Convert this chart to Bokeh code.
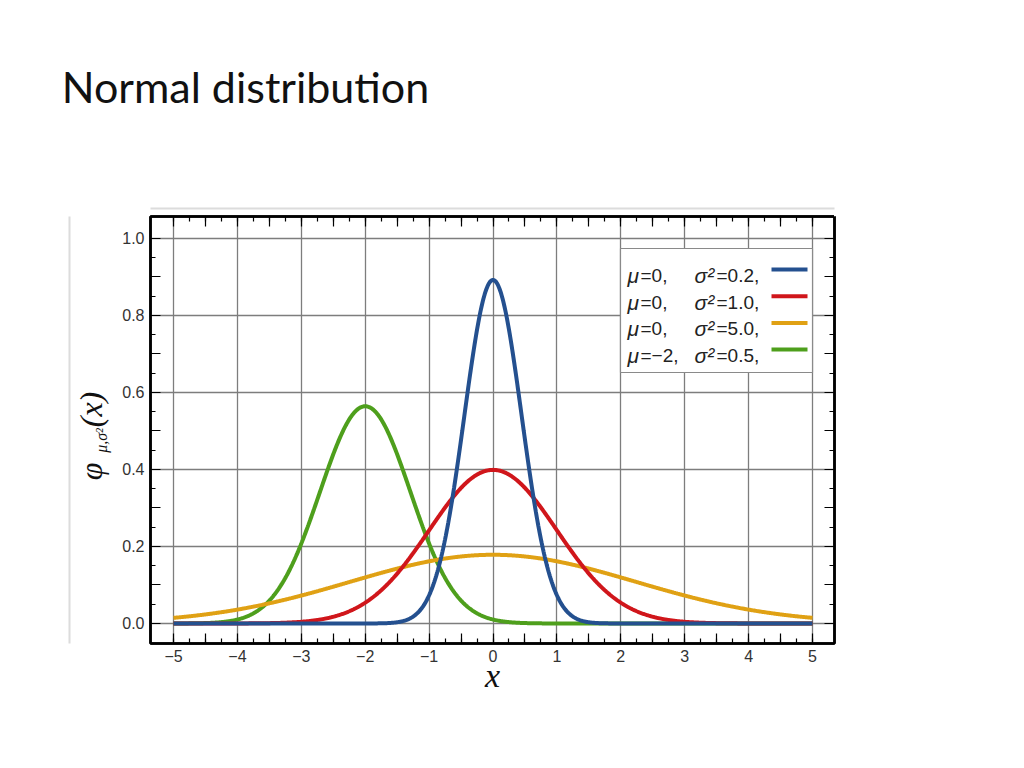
import numpy as np
from bokeh.plotting import figure
from bokeh.models import (Range1d, LinearAxis, FixedTicker, CustomJSTickFormatter,
                          Grid, ColumnDataSource)
from bokeh.core.properties import value
from bokeh.embed import file_html
from bokeh.resources import INLINE

# ---------------- data ----------------
mus = [0, 0, 0, -2]
variances = [0.2, 1.0, 5.0, 0.5]
colors = ["#24508f", "#d0161b", "#e0a114", "#4e9f1c"]
mu_labels = ["=0,", "=0,", "=0,", "=\u22122,"]
var_labels = ["=0.2,", "=1.0,", "=5.0,", "=0.5,"]
x_ticks = [-5, -4, -3, -2, -1, 0, 1, 2, 3, 4, 5]
y_ticks = [0.0, 0.2, 0.4, 0.6, 0.8, 1.0]
x_domain = [-5, 5]
title_text = "Normal distribution"
x_label = "x"
y_label_main = ["\u03c6", "(x)"]
y_label_sub = ["\u03bc,\u03c3\u00b2"]

# ---------------- layout helpers (page px -> data) ----------------
W, H = 1008, 752
F_LEFT, F_TOP, F_RIGHT, F_BOTTOM = 150, 216, 834, 643
X0, X1 = -5.36, 5.344
Y0, Y1 = -0.052, 1.057

def X(px):
    return X0 + (px - F_LEFT) / (F_RIGHT - F_LEFT) * (X1 - X0)

def Y(py):
    return Y0 + (F_BOTTOM - py) / (F_BOTTOM - F_TOP) * (Y1 - Y0)

p = figure(width=W, height=H, output_backend="svg", toolbar_location=None,
           x_range=Range1d(X0, X1), y_range=Range1d(Y0, Y1),
           x_axis_type=None, y_axis_type=None,
           min_border_left=F_LEFT, min_border_right=W - F_RIGHT,
           min_border_top=F_TOP, min_border_bottom=H - F_BOTTOM)
p.background_fill_color = "white"
p.border_fill_color = "white"
p.outline_line_color = "black"
p.outline_line_width = 2.5

p.add_layout(Grid(dimension=0, ticker=FixedTicker(ticks=x_ticks),
                  grid_line_color="#7d7d7d", grid_line_width=1.3))
p.add_layout(Grid(dimension=1, ticker=FixedTicker(ticks=y_ticks),
                  grid_line_color="#7d7d7d", grid_line_width=1.3))

x_major = np.arange(-5, 5.001, 0.5).tolist()
x_minor = np.arange(-5, 5.001, 0.25).tolist()
y_major = np.round(np.arange(0, 1.0001, 0.1), 2).tolist()
y_minor = np.round(np.arange(0, 1.0001, 0.05), 2).tolist()

xfmt = CustomJSTickFormatter(code="""
if (Math.abs(tick - Math.round(tick)) > 1e-6) return "";
const v = Math.round(tick);
return v < 0 ? "\u2212" + (-v) : "" + v;
""")
yfmt = CustomJSTickFormatter(code="""
if (Math.abs(tick*5 - Math.round(tick*5)) > 1e-6) return "";
return tick.toFixed(1);
""")

def tick_axis(major, minor, fmt, labels=True):
    return LinearAxis(ticker=FixedTicker(ticks=major, minor_ticks=minor),
                      formatter=fmt if labels else CustomJSTickFormatter(code='return "";'),
                      axis_line_color="black", axis_line_width=2.5,
                      major_tick_in=10, major_tick_out=0,
                      minor_tick_in=5, minor_tick_out=0,
                      major_tick_line_color="black", minor_tick_line_color="black",
                      major_tick_line_width=1.2, minor_tick_line_width=1.2,
                      major_label_text_font="Liberation Sans",
                      major_label_text_font_size="16px" if labels else "0px",
                      major_label_text_color="#333333",
                      major_label_standoff=6 if labels else 0)

def spacer_axis(size, at):
    # an invisible (white) outward tick gives this axis its thickness
    return LinearAxis(ticker=FixedTicker(ticks=[at]),
                      formatter=CustomJSTickFormatter(code='return "";'),
                      axis_line_color=None, major_tick_line_color="white",
                      major_tick_line_width=1,
                      major_tick_in=0, major_tick_out=size, minor_tick_in=0, minor_tick_out=0,
                      major_label_standoff=0, major_label_text_font_size="0px")

def gray_axis():
    return LinearAxis(ticker=FixedTicker(ticks=[]),
                      formatter=CustomJSTickFormatter(code='return "";'),
                      axis_line_color="#dcdcdc", axis_line_width=2,
                      major_tick_in=0, major_tick_out=0, minor_tick_in=0, minor_tick_out=0,
                      major_label_standoff=0, major_label_text_font_size="0px")

def text_axis(tick_pos, labels, font, size, style, standoff, orientation="horizontal"):
    fmt = CustomJSTickFormatter(args=dict(tpos=tick_pos, tlab=labels), code="""
for (let i = 0; i < tpos.length; i++) {
  if (Math.abs(tpos[i] - tick) < 1e-9) return tlab[i];
}
return "";
""")
    return LinearAxis(ticker=FixedTicker(ticks=tick_pos), formatter=fmt,
                      axis_line_color=None,
                      major_tick_in=0, major_tick_out=0, minor_tick_in=0, minor_tick_out=0,
                      major_label_standoff=standoff, major_label_text_font=font,
                      major_label_text_font_size=size, major_label_text_font_style=style,
                      major_label_text_color="#111111",
                      major_label_orientation=orientation)

# below: ticks + numbers + x label
ax_bottom = tick_axis(x_major, x_minor, xfmt)
ax_bottom.axis_label = x_label
ax_bottom.axis_label_text_font = "Liberation Serif"
ax_bottom.axis_label_text_font_style = "italic"
ax_bottom.axis_label_text_font_size = "34px"
ax_bottom.axis_label_text_color = "#111111"
ax_bottom.axis_label_standoff = -8
p.add_layout(ax_bottom, "below")

# above: ticks, spacer, gray image edge, slide title
p.add_layout(tick_axis(x_major, x_minor, None, labels=False), "above")
p.add_layout(spacer_axis(8, X1 - 0.001), "above")
p.add_layout(gray_axis(), "above")
p.add_layout(text_axis([X(245)], [title_text], "Lato", "43px", "normal", 97), "above")

# left: ticks + numbers, y label pieces, gray image edge
p.add_layout(tick_axis(y_major, y_minor, yfmt), "left")
p.add_layout(text_axis([Y(440)], y_label_sub, "Liberation Serif", "16px", "italic", 10,
                       "vertical"), "left")
p.add_layout(text_axis([Y(471), Y(409)], y_label_main, "Liberation Serif", "32px", "italic", -19,
                       "vertical"), "left")
p.add_layout(gray_axis(), "left")

# right: ticks only
p.add_layout(tick_axis(y_major, y_minor, None, labels=False), "right")

# legend box (glyph level, covers grid)
p.quad(left=[X(620)], right=[X(812)], top=[Y(248)], bottom=[Y(372)],
       fill_color="white", line_color="#8a8a8a", line_width=1.2)

# curves
xs = np.linspace(x_domain[0], x_domain[1], 1001)
for i in [3, 2, 1, 0]:
    mu, var = mus[i], variances[i]
    ys = np.exp(-(xs - mu) ** 2 / (2 * var)) / np.sqrt(2 * np.pi * var)
    p.line(xs, ys, line_color=colors[i], line_width=4)

# legend entries
n = len(mus)
row_base = [275 + 26.7 * i for i in range(n)]
row_line = [269 + 26.7 * i for i in range(n)]
leg = ColumnDataSource(dict(
    mu_sym=["\u03bc"] * n, var_sym=["\u03c3\u00b2"] * n,
    mu_lab=mu_labels, var_lab=var_labels,
    y=[Y(v) for v in row_base], yl=[Y(v) for v in row_line],
    x0=[X(771)] * n, x1=[X(807)] * n, color=colors,
))
font = value("Liberation Sans")
p.text(x=X(627), y="y", text="mu_sym", source=leg, text_font=font,
       text_font_style="italic", text_font_size="21px", text_color="#222222",
       text_baseline="alphabetic")
p.text(x=X(640), y="y", text="mu_lab", source=leg, text_font=font,
       text_font_size="19px", text_color="#222222", text_baseline="alphabetic")
p.text(x=X(694), y="y", text="var_sym", source=leg, text_font=font,
       text_font_style="italic", text_font_size="21px", text_color="#222222",
       text_baseline="alphabetic")
p.text(x=X(716), y="y", text="var_lab", source=leg, text_font=font,
       text_font_size="19px", text_color="#222222", text_baseline="alphabetic")
p.segment(x0="x0", x1="x1", y0="yl", y1="yl", source=leg,
          line_color="color", line_width=4)

open("out.html", "w").write(file_html(p, INLINE))
